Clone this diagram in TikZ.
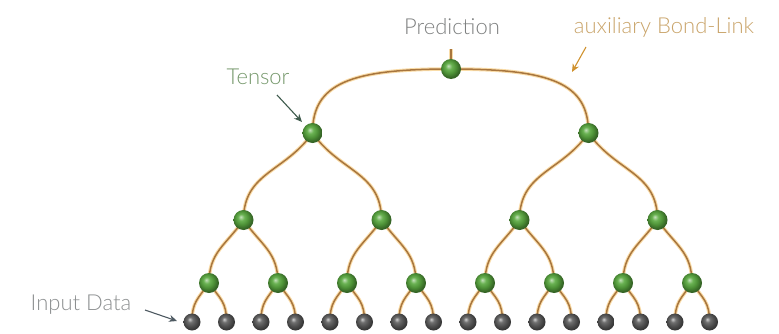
\documentclass[tikz,border=0pt]{standalone}
\usepackage{fontspec}
\IfFontExistsTF{Lato Light}{\setmainfont{Lato Light}}{\setmainfont{Lato}}
\usetikzlibrary{arrows.meta}
\pgfdeclarelayer{bg}
\pgfsetlayers{bg,main}
\definecolor{bond}{HTML}{A8763E}
\definecolor{glow}{HTML}{F5C46E}
\definecolor{tgreen}{HTML}{5AAA40}
\definecolor{leafgray}{HTML}{5E5E5E}
\definecolor{predgray}{HTML}{7E8080}
\definecolor{tensortxt}{HTML}{74976A}
\definecolor{auxtxt}{HTML}{C9A46A}
\definecolor{inputtxt}{HTML}{8C8F90}
\definecolor{tarrow}{HTML}{3E5A4C}
\definecolor{aarrow}{HTML}{D0922E}
\definecolor{iarrow}{HTML}{4E5A62}
\pgfdeclareradialshading{greenball}{\pgfpoint{-7bp}{8bp}}{%
  color(0bp)=(tgreen!35!white); color(8bp)=(tgreen!90!white);
  color(17bp)=(tgreen!85!black); color(25bp)=(tgreen!60!black);
  color(50bp)=(tgreen!50!black)}
\pgfdeclareradialshading{grayball}{\pgfpoint{-7bp}{8bp}}{%
  color(0bp)=(leafgray!30!white); color(8bp)=(leafgray!90!white);
  color(17bp)=(leafgray!85!black); color(25bp)=(leafgray!60!black);
  color(50bp)=(leafgray!50!black)}
\begin{document}
\begin{tikzpicture}[x=1pt,y=1pt,
  tensor/.style={circle,inner sep=0pt,minimum size=20pt,shading=greenball},
  leafnode/.style={circle,inner sep=0pt,minimum size=17pt,shading=grayball},
  bondline/.style={draw=bond,line width=1.5pt,preaction={draw=glow,line width=3.6pt,opacity=0.6}},
  lbl/.style={font=\fontsize{22}{26}\selectfont,inner sep=0pt},
  pointer/.style={line width=1.1pt,-{Stealth[length=8pt,width=7pt]}}]
\useasboundingbox (0,0) rectangle (779,333);
% nodes
\node[tensor] (r) at (451,264) {};
\node[tensor] (a1) at (312.5,200) {};
\node[tensor] (a2) at (588.5,200) {};
\foreach \i in {1,...,4}{
  \node[tensor] (b\i) at ({243.5+138*(\i-1)},113) {};
}
\foreach \i in {1,...,8}{
  \node[tensor] (c\i) at ({209+69*(\i-1)},50) {};
}
\foreach \i in {1,...,16}{
  \node[leafnode] (d\i) at ({192+34.5*(\i-1)},11) {};
}
\coordinate (out) at (451,284);
% edges
\begin{pgfonlayer}{bg}
\draw[bondline] (r.center) -- (out);
\draw[bondline] (r.center) .. controls +(180:100pt) and +(90:50pt) .. (a1.center);
\draw[bondline] (r.center) .. controls +(0:100pt) and +(90:50pt) .. (a2.center);
\foreach \p/\l/\rr in {a1/b1/b2,a2/b3/b4}{
  \draw[bondline] (\p.center) to[out=235,in=90,looseness=1.1] (\l.center);
  \draw[bondline] (\p.center) to[out=305,in=90,looseness=1.1] (\rr.center);
}
\foreach \p/\l/\rr in {b1/c1/c2,b2/c3/c4,b3/c5/c6,b4/c7/c8}{
  \draw[bondline] (\p.center) to[out=235,in=90,looseness=1.1] (\l.center);
  \draw[bondline] (\p.center) to[out=305,in=90,looseness=1.1] (\rr.center);
}
\foreach \p/\l/\rr in {c1/d1/d2,c2/d3/d4,c3/d5/d6,c4/d7/d8,c5/d9/d10,c6/d11/d12,c7/d13/d14,c8/d15/d16}{
  \draw[bondline] (\p.center) to[out=235,in=90,looseness=1.2] (\l.center);
  \draw[bondline] (\p.center) to[out=305,in=90,looseness=1.2] (\rr.center);
}
\end{pgfonlayer}
% labels
\node[lbl,text=predgray] (pred) at (452,306) {Prediction};
\node[lbl,text=auxtxt] (aux) at (664,306) {auxiliary Bond-Link};
\node[lbl,text=tensortxt] (tens) at (258,256) {Tensor};
\node[lbl,text=inputtxt] (inp) at (81,28) {Input Data};
% pointers
\coordinate (tA) at (277,238);
\coordinate (tB) at (302,211);
\draw[pointer,draw=tarrow] (tA) -- (tB);
\coordinate (aA) at (586,286);
\coordinate (aB) at (572,261);
\draw[pointer,draw=aarrow] (aA) -- (aB);
\coordinate (iA) at (145,23);
\coordinate (iB) at (177,12);
\draw[pointer,draw=iarrow] (iA) -- (iB);
\end{tikzpicture}
\end{document}
